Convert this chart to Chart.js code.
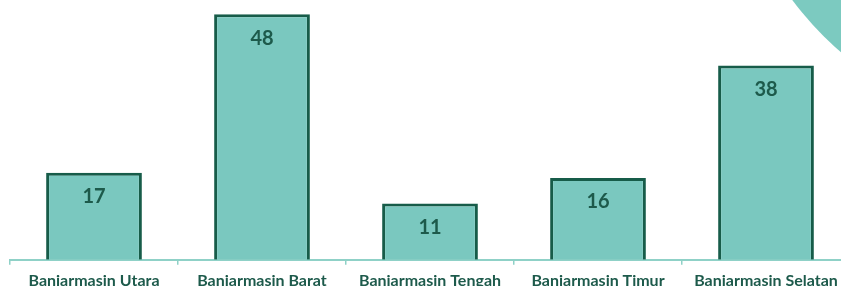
<!DOCTYPE html>
<html>
<head>
<meta charset="utf-8">
<script src="https://cdn.jsdelivr.net/npm/chart.js@4"></script>
<style>
  html, body { margin: 0; padding: 0; background: #fff; overflow: hidden; }
  #wrap { width: 860px; height: 286px; }
</style>
</head>
<body>
<div id="wrap"><canvas id="bar-chart" width="860" height="286"></canvas></div>
<script>
const labels = ["Banjarmasin Utara", "Banjarmasin Barat", "Banjarmasin Tengah", "Banjarmasin Timur", "Banjarmasin Selatan"];
const values = [17, 48, 11, 16, 38];

const fillColor = "#7ac8bf";
const edgeColor = "#175c49";
const textColor = "#1d5a4b";

// decorative circle in the top right corner
const cornerCircle = {
  id: "cornerCircle",
  beforeDraw(chart) {
    const c = chart.ctx;
    c.save();
    c.fillStyle = "#7ccac0";
    c.beginPath();
    c.arc(1057, -197, 330, 0, Math.PI * 2);
    c.fill();
    c.restore();
  },
};

// value labels inside the top of each bar
const valueLabels = {
  id: "valueLabels",
  afterDatasetsDraw(chart) {
    const c = chart.ctx;
    const meta = chart.getDatasetMeta(0);
    c.save();
    c.fillStyle = textColor;
    c.font = "bold 20px Lato";
    c.textAlign = "center";
    c.textBaseline = "middle";
    meta.data.forEach((bar, i) => {
      c.fillText(values[i], bar.x, bar.y + 24);
    });
    c.restore();
  },
};

const data = {
  labels,
  datasets: [
    {
      data: values,
      backgroundColor: fillColor,
      borderColor: edgeColor,
      borderWidth: 3,
      borderSkipped: "bottom",
      categoryPercentage: 1,
      barPercentage: 0.57,
    },
  ],
};

const options = {
  responsive: false,
  animation: false,
  layout: {
    padding: { left: 10, right: 10, top: 4, bottom: -10 },
  },
  scales: {
    x: {
      grid: {
        offset: true,
        drawOnChartArea: false,
        drawTicks: true,
        tickLength: 5,
        color: "#8fd1c7",
        lineWidth: 1.5,
      },
      border: { color: "#8fd1c7", width: 2 },
      ticks: {
        color: textColor,
        font: { family: "Lato", weight: "bold", size: 16 },
        padding: 6,
        maxRotation: 0,
        autoSkip: false,
      },
    },
    y: {
      display: false,
      min: 0,
      max: 50,
    },
  },
  plugins: {
    legend: { display: false },
    tooltip: { enabled: false },
  },
};

new Chart(document.getElementById("bar-chart"), {
  type: "bar",
  data: data,
  options: options,
  plugins: [cornerCircle, valueLabels],
});
</script>
</body>
</html>
